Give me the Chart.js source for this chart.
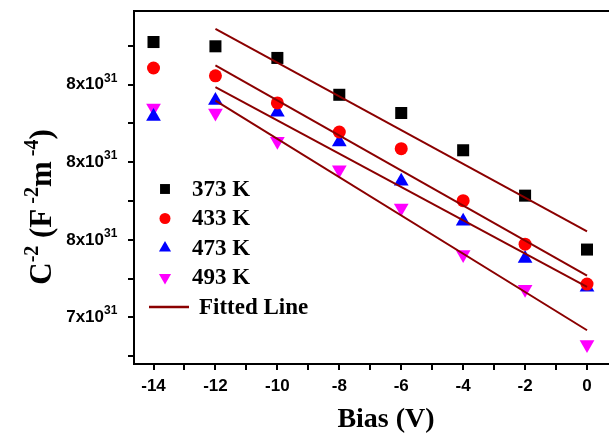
<!DOCTYPE html>
<html>
<head>
<meta charset="utf-8">
<script src="https://cdn.jsdelivr.net/npm/chart.js@4/dist/chart.umd.min.js"></script>
<style>
  body { margin: 0; background: #fff; }
  canvas { display: block; }
</style>
</head>
<body>
<canvas id="cv" width="609" height="435"></canvas>
<script>
// ---- Data (C^-2 in units of 1e31 F^-2 m^-4) ----
const bias = [-14, -12, -10, -8, -6, -4, -2, 0];
const c373 = [8.110, 8.099, 8.069, 7.974, 7.927, 7.831, 7.714, 7.575];
const c433 = [8.043, 8.023, 7.953, 7.878, 7.835, 7.701, 7.589, 7.486];
const c473 = [7.918, 7.959, 7.929, 7.852, 7.751, 7.648, 7.552, 7.478];
const c493 = [7.940, 7.927, 7.854, 7.781, 7.682, 7.562, 7.473, 7.330];

// fitted lines, from -12 V to 0 V
const fitX = [-12, 0];
const fit373 = [8.144, 7.622];
const fit433 = [8.050, 7.508];
const fit473 = [7.994, 7.479];
const fit493 = [7.959, 7.367];

const seriesNames = ['373 K', '433 K', '473 K', '493 K'];
const fitName = 'Fitted Line';

// ---- Ticks ----
const xMajor = [-14, -12, -10, -8, -6, -4, -2, 0];
const xMinor = [-13, -11, -9, -7, -5, -3, -1];
const yMajor = [8.0, 7.8, 7.6, 7.4];
const yMajorLabels = ['8x10', '8x10', '8x10', '7x10'];
const yExponent = '31';
const yMinor = [8.1, 7.9, 7.7, 7.5, 7.3];

const FIT_COLOR = '#8b0000';

function pts(xs, ys) {
  return xs.map((x, i) => ({ x: x, y: ys[i] }));
}

function markerSet(label, ys, m) {
  return {
    type: 'scatter',
    label: label,
    data: pts(bias, ys),
    pointStyle: m.style,
    pointRadius: m.r,
    pointRotation: m.rot,
    backgroundColor: m.color,
    borderColor: m.color,
    borderWidth: 0,
    order: 2
  };
}

function fitSet(ys) {
  return {
    type: 'line',
    label: fitName,
    data: pts(fitX, ys),
    borderColor: FIT_COLOR,
    borderWidth: 2,
    pointRadius: 0,
    fill: false,
    order: 1
  };
}

const markers = [
  { color: '#000000', style: 'rect', r: 8.5, rot: 0, lr: 7 },
  { color: '#ff0000', style: 'circle', r: 6.5, rot: 0, lr: 5.5 },
  { color: '#0000ff', style: 'triangle', r: 8.5, rot: 0, lr: 7 },
  { color: '#ff00ff', style: 'triangle', r: 8.5, rot: 180, lr: 7 }
];

const SERIF = '"Liberation Serif", "Times New Roman", serif';
const SANS = '"Liberation Sans", Arial, sans-serif';

// ---- Plugins: in-plot legend, frame top, axis titles, exponents ----
const extras = {
  id: 'extras',
  afterDraw(chart) {
    const ctx = chart.ctx;
    const a = chart.chartArea;
    ctx.save();

    // top frame line
    ctx.strokeStyle = '#000';
    ctx.lineWidth = 2;
    ctx.beginPath();
    ctx.moveTo(a.left, a.top);
    ctx.lineTo(a.right, a.top);
    ctx.stroke();

    // exponent on the y tick labels
    const ys = chart.scales.y;
    ctx.fillStyle = '#000';
    ctx.font = 'bold 12px ' + SANS;
    ctx.textAlign = 'left';
    ctx.textBaseline = 'alphabetic';
    yMajor.forEach(v => {
      const py = ys.getPixelForValue(v);
      ctx.fillText(yExponent, 104, py - 3);
    });

    // legend
    const lx = 165, tx = 192, ly0 = 189, dy = 29.5;
    ctx.font = 'bold 23px ' + SERIF;
    ctx.textBaseline = 'middle';
    seriesNames.forEach((name, i) => {
      const m = markers[i];
      const y = ly0 + i * dy;
      ctx.fillStyle = m.color;
      Chart.helpers.drawPoint(ctx, { pointStyle: m.style, radius: m.lr, rotation: m.rot, borderWidth: 0 }, lx, y);
      ctx.fillStyle = '#000';
      ctx.fillText(name, tx, y + 1);
    });
    const fy = ly0 + 4 * dy;
    ctx.strokeStyle = FIT_COLOR;
    ctx.lineWidth = 2.5;
    ctx.beginPath();
    ctx.moveTo(149, fy);
    ctx.lineTo(189, fy);
    ctx.stroke();
    ctx.fillStyle = '#000';
    ctx.fillText(fitName, 199, fy + 1);

    // x title
    ctx.font = 'bold 28px ' + SERIF;
    ctx.textAlign = 'center';
    ctx.textBaseline = 'alphabetic';
    ctx.fillText('Bias (V)', 386, 427);

    // y title with superscripts
    const big = 'bold 31px ' + SERIF;
    const small = 'bold 20px ' + SERIF;
    const parts = [
      ['C', big, 0], ['-2', small, -13], [' (F', big, 0], [' -2', small, -13],
      ['m', big, 0], [' -4', small, -13], [')', big, 0]
    ];
    let total = 0;
    parts.forEach(p => { ctx.font = p[1]; total += ctx.measureText(p[0]).width; });
    ctx.translate(51, 207);
    ctx.rotate(-Math.PI / 2);
    ctx.textAlign = 'left';
    let px = -total / 2;
    parts.forEach(p => {
      ctx.font = p[1];
      ctx.fillText(p[0], px, p[2]);
      px += ctx.measureText(p[0]).width;
    });

    ctx.restore();
  }
};

const axisGrid = {
  display: true,
  drawOnChartArea: false,
  drawTicks: true,
  tickLength: 6,
  color: '#000',
  lineWidth: 2
};

new Chart(document.getElementById('cv'), {
  data: {
    datasets: [
      markerSet(seriesNames[0], c373, markers[0]),
      markerSet(seriesNames[1], c433, markers[1]),
      markerSet(seriesNames[2], c473, markers[2]),
      markerSet(seriesNames[3], c493, markers[3]),
      fitSet(fit373),
      fitSet(fit433),
      fitSet(fit473),
      fitSet(fit493)
    ]
  },
  options: {
    responsive: false,
    animation: false,
    layout: { autoPadding: false, padding: { top: 11, right: 0, left: 0, bottom: 0 } },
    plugins: {
      legend: { display: false },
      tooltip: { enabled: false }
    },
    scales: {
      x: {
        type: 'linear',
        min: -14.63,
        max: 0.71,
        border: { color: '#000', width: 2 },
        grid: axisGrid,
        afterBuildTicks: s => { s.ticks = xMajor.concat(xMinor).sort((a, b) => a - b).map(v => ({ value: v })); },
        afterFit: s => { s.height = 71; s.paddingLeft = 0; s.paddingRight = 0; },
        ticks: {
          autoSkip: false,
          maxRotation: 0,
          padding: 6,
          color: '#000',
          font: { family: SANS, size: 17, weight: 'bold' },
          callback: v => xMajor.includes(v) ? String(v) : ''
        }
      },
      y: {
        type: 'linear',
        min: 7.28,
        max: 8.19,
        border: { color: '#000', width: 2 },
        grid: axisGrid,
        afterBuildTicks: s => { s.ticks = yMajor.concat(yMinor).sort((a, b) => a - b).map(v => ({ value: v })); },
        afterFit: s => { s.width = 134; s.paddingTop = 0; s.paddingBottom = 0; },
        ticks: {
          autoSkip: false,
          padding: 24,
          color: '#000',
          font: { family: SANS, size: 17, weight: 'bold' },
          callback: v => {
            const i = yMajor.findIndex(m => Math.abs(m - v) < 1e-6);
            return i >= 0 ? yMajorLabels[i] : '';
          }
        }
      }
    }
  },
  plugins: [extras]
});
</script>
</body>
</html>
